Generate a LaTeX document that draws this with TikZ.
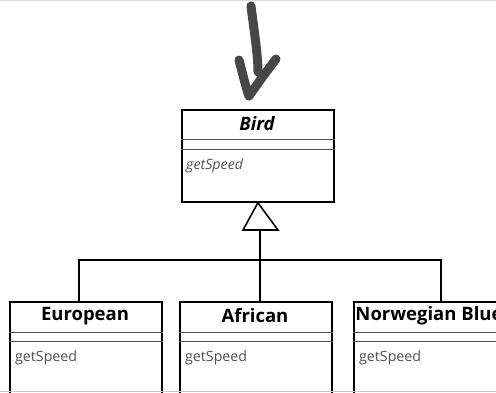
\documentclass[tikz,border=0pt]{standalone}
\usepackage{fontspec}
\setmainfont{Open Sans}
\definecolor{opgray}{HTML}{505050}
\definecolor{pengray}{HTML}{474747}
\definecolor{framegray}{HTML}{C8C8C8}
\begin{document}
\begin{tikzpicture}[x=1pt,y=-1pt,
  classbox/.style={draw=black,line width=1.8pt,minimum width=152pt,minimum height=92pt,inner sep=0pt},
  title/.style={font=\fontsize{18.5}{20}\selectfont\bfseries,anchor=center},
  oper/.style={font=\fontsize{14.2}{16}\selectfont,text=opgray,anchor=west,inner sep=0pt},
  sep/.style={draw=opgray,line width=1pt},
  link/.style={draw=black,line width=1.6pt},
  pen/.style={draw=pengray,line width=9pt,line cap=round,line join=round}]
\useasboundingbox (0,0) rectangle (496,392);
\begin{scope}
\clip (0,0) rectangle (496,392);
% hand-drawn arrow pointing at the base class
\draw[pen] (251,6) .. controls (254,30) and (258,55) .. (258,72);
\draw[pen] (239,60) .. controls (243,75) and (246,88) .. (249,96)
  .. controls (256,86) and (266,72) .. (276,59);
% base class
\node[classbox,anchor=north west] (bird) at (181,109) {};
\node[title,font=\fontsize{18.5}{20}\selectfont\bfseries\itshape] (birdname) at (257,124) {Bird};
\draw[sep] (bird.west |- 0,139) -- (bird.east |- 0,139);
\draw[sep] (bird.west |- 0,149) -- (bird.east |- 0,149);
\node[oper,font=\fontsize{14.2}{16}\selectfont\itshape] (birdop) at (186,166) {getSpeed};
% subclasses
\foreach \nm/\lbl/\xl in {eur/European/9, afr/African/179, nor/Norwegian Blue/353}{
  \node[classbox,anchor=north west] (\nm) at (\xl,301) {};
  \node[title] (\nm name) at (\xl+76,316) {\lbl};
  \draw[sep] (\nm.west |- 0,332) -- (\nm.east |- 0,332);
  \draw[sep] (\nm.west |- 0,341) -- (\nm.east |- 0,341);
  \node[oper] (\nm op) at (\xl+6,358) {getSpeed};
}
% generalization connectors
\coordinate (apex) at (bird.south);
\coordinate (tbase) at (260,230);
\coordinate (bus) at (260,260);
\draw[link,fill=white,line join=miter] (apex) -- (243,230) -- (278,230) -- cycle;
\draw[link] (tbase) -- (afr.north -| tbase);
\draw[link] (eur.north -| 79,0) -- (79,260) -- (441,260) -- (nor.north -| 441,0);
% frame rules
\draw[framegray!60,line width=1pt] (0,0.5) -- (496,0.5);
\draw[framegray,line width=1pt] (0,391.5) -- (496,391.5);
\end{scope}
\end{tikzpicture}
\end{document}
